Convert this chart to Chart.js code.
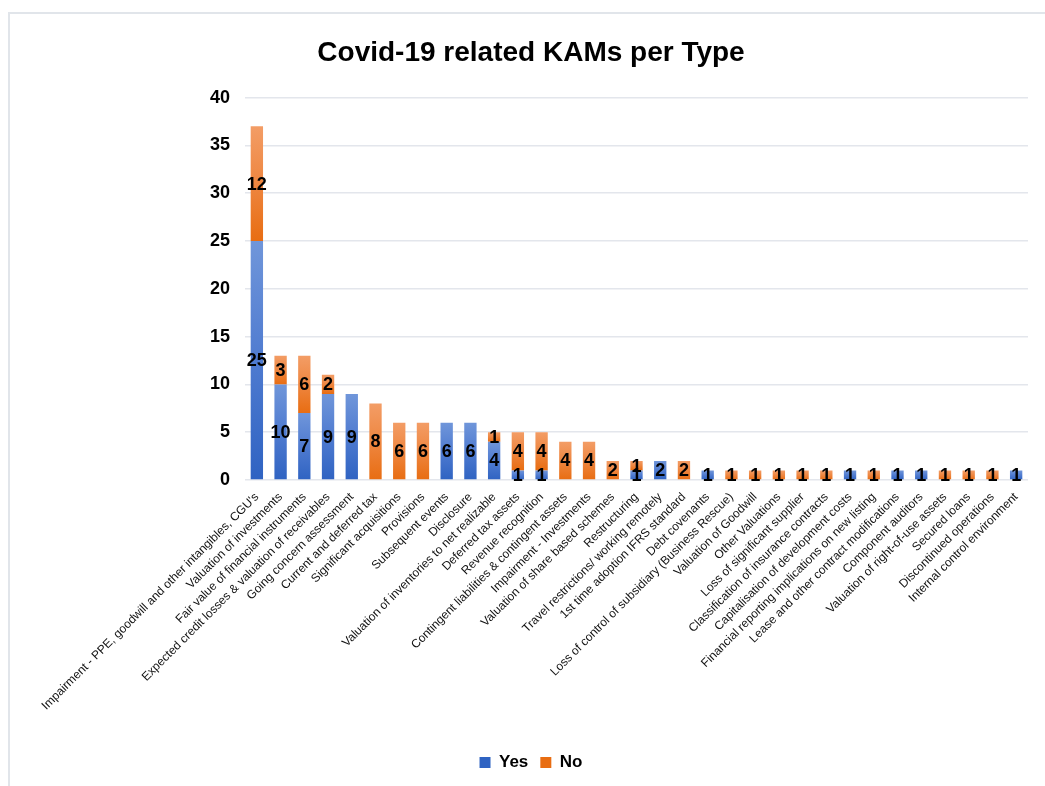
<!DOCTYPE html>
<html>
<head>
<meta charset="utf-8">
<script src="https://cdn.jsdelivr.net/npm/chart.js@4.4.1/dist/chart.umd.min.js"></script>
<style>
  html, body { margin: 0; padding: 0; background: #fff; overflow: hidden; }
  #wrap { position: relative; width: 1045px; height: 786px; }
  #frame { position: absolute; left: 8px; top: 12px; width: 1200px; height: 900px;
           border: 2px solid #e1e5ea; pointer-events: none; }
</style>
</head>
<body>
<div id="wrap">
  <canvas id="grafico" width="1045" height="786"></canvas>
  <div id="frame"></div>
</div>
<script>
const categorias = [
  "Impairment - PPE, goodwill and other intangibles, CGU's",
  "Valuation of investments",
  "Fair value of financial instruments",
  "Expected credit losses & valuation of receivables",
  "Going concern assessment",
  "Current and deferred tax",
  "Significant acquisitions",
  "Provisions",
  "Subsequent events",
  "Disclosure",
  "Valuation of inventories to net realizable",
  "Deferred tax assets",
  "Revenue recognition",
  "Contingent liabilities & contingent assets",
  "Impairment - Investments",
  "Valuation of share based schemes",
  "Restructuring",
  "Travel restrictions/ working remotely",
  "1st time adoption IFRS standard",
  "Debt covenants",
  "Loss of control of subsidiary (Business Rescue)",
  "Valuation of Goodwill",
  "Other Valuations",
  "Loss of significant supplier",
  "Classification of insurance contracts",
  "Capitalisation of development costs",
  "Financial reporting implications on new listing",
  "Lease and other contract modifications",
  "Component auditors",
  "Valuation of right-of-use assets",
  "Secured loans",
  "Discontinued operations",
  "Internal control environment"
];
const yes = [25, 10, 7, 9, 9, 0, 0, 0, 6, 6, 4, 1, 1, 0, 0, 0, 1, 2, 0, 1, 0, 0, 0, 0, 0, 1, 0, 1, 1, 0, 0, 0, 1];
const no  = [12, 3, 6, 2, 0, 8, 6, 6, 0, 0, 1, 4, 4, 4, 4, 2, 1, 0, 2, 0, 1, 1, 1, 1, 1, 0, 1, 0, 0, 1, 1, 1, 0];
const yTicks = [0, 5, 10, 15, 20, 25, 30, 35, 40];

const FONTE = "'Liberation Sans', Arial, sans-serif";

// gradiente por segmento (mais claro em cima, mais escuro em baixo)
function gradiente(topo, meio, baixo, flat) {
  return (c) => {
    const chart = c.chart;
    if (!chart.chartArea || c.type !== "data") return flat;
    const y = chart.scales.y;
    const ds = c.datasetIndex;
    const base = ds === 0 ? 0 : yes[c.dataIndex];
    const valor = ds === 0 ? yes[c.dataIndex] : no[c.dataIndex];
    const y0 = y.getPixelForValue(base);
    const y1 = y.getPixelForValue(base + valor);
    if (!isFinite(y0) || !isFinite(y1) || y0 === y1) return flat;
    const g = chart.ctx.createLinearGradient(0, y1, 0, y0);
    g.addColorStop(0, topo);
    g.addColorStop(0.5, meio);
    g.addColorStop(1, baixo);
    return g;
  };
}

const rotulos = {
  id: "rotulos",
  afterDatasetsDraw(chart) {
    const ctx = chart.ctx;
    ctx.save();
    ctx.font = "bold 18px " + FONTE;
    ctx.fillStyle = "#000";
    ctx.textAlign = "center";
    ctx.textBaseline = "middle";
    chart.data.datasets.forEach((ds, i) => {
      chart.getDatasetMeta(i).data.forEach((bar, j) => {
        const v = ds.data[j];
        if (!v) return;
        ctx.fillText(String(v), bar.x, (bar.y + bar.base) / 2 + 1);
      });
    });
    ctx.restore();
  }
};

new Chart(document.getElementById("grafico"), {
  type: "bar",
  data: {
    labels: categorias,
    datasets: [
      { label: "Yes", data: yes,
        backgroundColor: gradiente("#7096da", "#4f7bd0", "#2f63c2", "#4472c4") },
      { label: "No", data: no,
        backgroundColor: gradiente("#f39d66", "#ee8640", "#e86d12", "#ed7d31") }
    ]
  },
  options: {
    responsive: false,
    animation: false,
    layout: { padding: { left: 34, right: 17, top: 0, bottom: 5 } },
    datasets: { bar: { barPercentage: 0.52, categoryPercentage: 1 } },
    scales: {
      x: {
        stacked: true,
        grid: { display: false },
        border: { display: false },
        ticks: {
          autoSkip: false, maxRotation: 45, minRotation: 45,
          color: "#111", padding: 2,
          font: { family: FONTE, size: 12 }
        },
        afterFit: (s) => { s.height = 262; }
      },
      y: {
        stacked: true,
        min: 0, max: 40,
        afterBuildTicks: (s) => { s.ticks = yTicks.map(v => ({ value: v })); },
        grid: { color: "#e3e6ec", lineWidth: 1.5, drawTicks: false },
        border: { display: false },
        ticks: { color: "#000", padding: 15, font: { family: FONTE, size: 18, weight: "bold" } },
        afterFit: (s) => { s.width = 211; }
      }
    },
    plugins: {
      title: {
        display: true,
        text: "Covid-19 related KAMs per Type",
        color: "#000",
        font: { family: FONTE, size: 28, weight: "bold" },
        padding: { top: 36, bottom: 28 }
      },
      legend: {
        position: "bottom",
        labels: {
          color: "#000", boxWidth: 11, boxHeight: 11, padding: 12,
          font: { family: FONTE, size: 17, weight: "bold" }
        }
      },
      tooltip: { enabled: false }
    }
  },
  plugins: [rotulos]
});
</script>
</body>
</html>
